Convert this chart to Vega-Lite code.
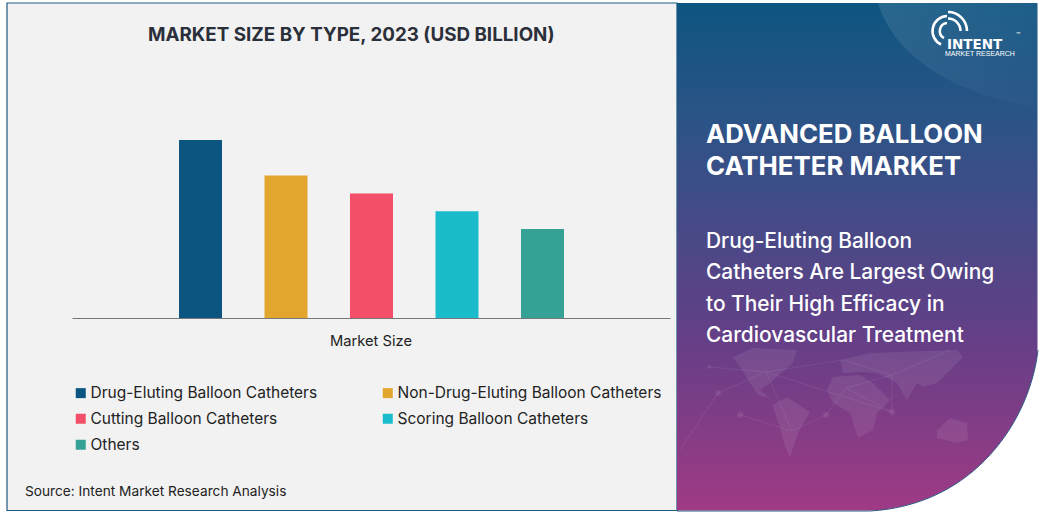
{
"$schema":"https://vega.github.io/schema/vega-lite/v6.json",
"width":1043,"height":513,"padding":0,"autosize":{"type":"none"},"background":"#ffffff",
"config":{"view":{"stroke":null},"font":"Inter"},
"layer":[
{"data":{"values":[{"part":"left panel"}]},"mark":{"type":"rect","x":7,"x2":677,"y":3,"y2":510.5,"fill":"#f2f2f2","stroke":"#1c5a80","strokeWidth":1.2},"encoding":{}},
{"data":{"values":[{"part":"right panel"}]},"mark":{"type":"rect","x":677,"x2":1037.5,"y":3,"y2":510.5,"fill":{"gradient":"linear","x1":0,"y1":0,"x2":0,"y2":1,"stops":[{"offset":0,"color":"#0e5581"},{"offset":0.23,"color":"#2b5486"},{"offset":0.66,"color":"#643f87"},{"offset":1,"color":"#a03a85"}]}},"encoding":{}},
{"data":{"values":[{"part":"corner highlight"}]},"mark":{"type":"point","x":0,"y":0,"size":4,"filled":true,"opacity":1,"shape":"M878,3 C895,60 960,95 1037.5,108 L1037.5,3 Z","fill":{"gradient":"linear","x1":0,"y1":0,"x2":1,"y2":1,"stops":[{"offset":0,"color":"rgba(255,255,255,0.11)"},{"offset":1,"color":"rgba(255,255,255,0.01)"}]}},"encoding":{}},
{"data":{"values":[{"part":"map"}]},"mark":{"type":"point","x":0,"y":0,"size":4,"filled":true,"opacity":0.08,"fill":"#ffffff","shape":"M733,357 L753,348 L797,350 L793,363 L770,383 L760,390 L770,398 L758,395 L750,383 L742,370 Z M772,405 L787,397 L810,412 L798,433 L790,457 L785,447 L780,427 Z M827,390 L833,377 L860,375 L873,383 L890,400 L877,413 L873,430 L858,438 L850,413 L833,403 Z M840,360 L870,353 L957,350 L963,357 L937,383 L923,387 L917,383 L907,400 L897,383 L877,373 L860,372 L843,373 Z M937,430 L950,418 L967,423 L968,440 L957,443 L937,438 Z M718,393 m-3,0 a3,3 0 1,0 6,0 a3,3 0 1,0 -6,0 Z M740,415 m-3,0 a3,3 0 1,0 6,0 a3,3 0 1,0 -6,0 Z M826,415 m-3,0 a3,3 0 1,0 6,0 a3,3 0 1,0 -6,0 Z M709,367 m-2,0 a2,2 0 1,0 4,0 a2,2 0 1,0 -4,0 Z M892,412 m-3,0 a3,3 0 1,0 6,0 a3,3 0 1,0 -6,0 Z"},"encoding":{}},
{"data":{"values":[{"part":"map network"}]},"mark":{"type":"point","x":0,"y":0,"size":4,"filled":false,"opacity":0.1,"stroke":"#ffffff","strokeWidth":0.7,"shape":"M718,393 L766,372 L892,412 M709,367 L766,372 L792,431 L826,415 L846,388 L892,412 M740,415 L792,431 M718,393 L680,450 M892,412 L892,375 L950,350 M846,388 L892,375 L843,360 M766,372 L843,360"},"encoding":{}},
{"data":{"values":[{"part":"white corner"}]},"mark":{"type":"point","x":0,"y":0,"size":4,"filled":true,"opacity":1,"fill":"#ffffff","shape":"M1038,350 C1030,420 975,505 870,511 L870,513 L1043,513 L1043,350 Z"},"encoding":{}},
{"data":{"values":[{"part":"curve edge"}]},"mark":{"type":"point","x":0,"y":0,"size":4,"filled":false,"opacity":1,"stroke":"#2f5a86","strokeWidth":1,"shape":"M1038,350 C1030,420 975,505 870,511 L677,511"},"encoding":{}},
{"data":{"values":[
{"type":"Drug-Eluting Balloon Catheters","size":5},
{"type":"Non-Drug-Eluting Balloon Catheters","size":4},
{"type":"Cutting Balloon Catheters","size":3.5},
{"type":"Scoring Balloon Catheters","size":3},
{"type":"Others","size":2.5}]},
"transform":[{"calculate":"'Market Size'","as":"segment"}],
"mark":{"type":"bar"},
"encoding":{
"x":{"field":"segment","type":"nominal","scale":{"range":[72,670],"paddingInner":0,"paddingOuter":0},"axis":{"title":null,"labelAngle":0,"ticks":false,"domainColor":"#777777","domainWidth":1,"offset":-195,"zindex":1,"labelFontSize":14.7,"labelColor":"#222222","labelPadding":15.5,"labelFont":"Inter"}},
"xOffset":{"field":"type","type":"nominal","sort":null,"scale":{"range":[107,492],"paddingInner":0.497,"paddingOuter":0}},
"y":{"field":"size","type":"quantitative","scale":{"domain":[0,5],"range":[318,140]},"axis":null},
"color":{"field":"type","type":"nominal","sort":null,"scale":{"domain":["Drug-Eluting Balloon Catheters","Non-Drug-Eluting Balloon Catheters","Cutting Balloon Catheters","Scoring Balloon Catheters","Others"],"range":["#0b5580","#e2a52d","#f34f69","#1abccb","#36a296"]},
"legend":{"title":null,"orient":"none","direction":"horizontal","legendX":73,"legendY":385,"columns":2,"symbolType":"square","symbolSize":100,"symbolOpacity":1,"labelFontSize":15.5,"labelFont":"Inter","labelColor":"#222222","labelOffset":2,"rowPadding":9,"columnPadding":62,"labelLimit":320}}
}},
{"data":{"values":[{"label":"MARKET SIZE BY TYPE, 2023 (USD BILLION)"}]},"mark":{"type":"text","x":148,"y":34.5,"align":"left","fontSize":18.8,"fontWeight":"bold","fill":"#2a2f3a"},"encoding":{"text":{"field":"label"}}},
{"data":{"values":[{"label":"Source: Intent Market Research Analysis"}]},"mark":{"type":"text","x":25,"y":492,"align":"left","fontSize":13.7,"fill":"#222222"},"encoding":{"text":{"field":"label"}}},
{"data":{"values":[{"label":"ADVANCED BALLOON|CATHETER MARKET"}]},"mark":{"type":"text","x":706,"y":135,"align":"left","fontSize":25.8,"fontWeight":"bold","fill":"#ffffff","lineBreak":"|","lineHeight":31.5},"encoding":{"text":{"field":"label"}}},
{"data":{"values":[{"part":"divider"}]},"mark":{"type":"rule","x":696,"x2":1015,"y":206,"stroke":"#ffffff","strokeWidth":1,"opacity":0.9},"encoding":{}},
{"data":{"values":[{"label":"Drug-Eluting Balloon|Catheters Are Largest Owing|to Their High Efficacy in|Cardiovascular Treatment"}]},"mark":{"type":"text","x":706,"y":242,"align":"left","fontSize":20.9,"fontWeight":500,"fill":"#ffffff","lineBreak":"|","lineHeight":31.3},"encoding":{"text":{"field":"label"}}},
{"data":{"values":[{"part":"logo"}]},"mark":{"type":"point","x":0,"y":0,"size":4,"filled":false,"opacity":1,"stroke":"#ffffff","strokeWidth":2.6,"shape":"M948,12 A19,19 0 0 1 967,31 M948,18.5 A12.5,12.5 0 0 1 960.5,31 M947,16 A15,15 0 0 0 941,44.5 M947,23 A8,8 0 0 0 944,38"},"encoding":{}},
{"data":{"values":[{"label":"INTENT"}]},"mark":{"type":"text","x":947,"y":44.5,"align":"left","fontSize":13.5,"fontWeight":"bold","font":"DejaVu Sans","fill":"#ffffff"},"encoding":{"text":{"field":"label"}}},
{"data":{"values":[{"label":"™"}]},"mark":{"type":"text","x":1016,"y":36,"align":"left","fontSize":7,"fill":"#ffffff"},"encoding":{"text":{"field":"label"}}},
{"data":{"values":[{"label":"MARKET RESEARCH"}]},"mark":{"type":"text","x":945,"y":54,"align":"left","fontSize":7,"font":"Liberation Sans","fill":"#ffffff"},"encoding":{"text":{"field":"label"}}}
]
}
